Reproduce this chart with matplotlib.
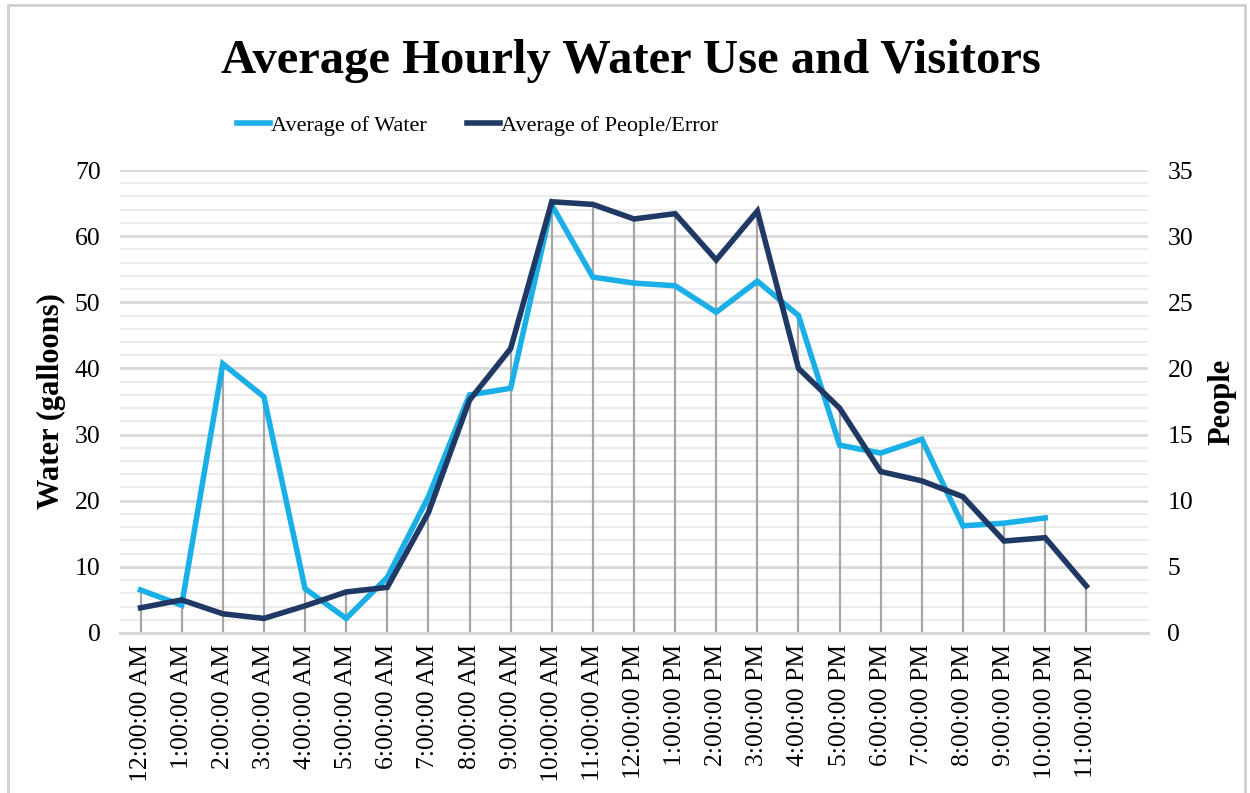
import matplotlib
matplotlib.use('Agg')
import matplotlib.pyplot as plt
from matplotlib.patches import Rectangle
import numpy as np

hours = ['12:00:00 AM', '1:00:00 AM', '2:00:00 AM', '3:00:00 AM', '4:00:00 AM',
         '5:00:00 AM', '6:00:00 AM', '7:00:00 AM', '8:00:00 AM', '9:00:00 AM',
         '10:00:00 AM', '11:00:00 AM', '12:00:00 PM', '1:00:00 PM', '2:00:00 PM',
         '3:00:00 PM', '4:00:00 PM', '5:00:00 PM', '6:00:00 PM', '7:00:00 PM',
         '8:00:00 PM', '9:00:00 PM', '10:00:00 PM', '11:00:00 PM']
water = [6.5, 4.2, 40.7, 35.7, 6.7, 2.2, 8.4, 20.6, 36.0, 37.0,
         64.7, 53.8, 52.9, 52.5, 48.5, 53.2, 48.0, 28.4, 27.2, 29.3,
         16.2, 16.6, 17.4]
people = [1.9, 2.5, 1.45, 1.1, 2.05, 3.1, 3.45, 9.1, 17.6, 21.5,
          32.6, 32.4, 31.3, 31.7, 28.2, 31.9, 20.0, 17.0, 12.2, 11.5,
          10.3, 6.95, 7.2, 3.55]

plt.rcParams['font.family'] = 'Liberation Serif'

fig = plt.figure(figsize=(12.5, 7.93), dpi=100)
ax = fig.add_axes([0.096, 0.2018, 0.8224, 0.5838])
ax2 = ax.twinx()

x = np.arange(len(hours))
xw = np.arange(len(water))

# gridlines
ax.set_ylim(0, 70)
ax2.set_ylim(0, 35)
ax.set_yticks(range(0, 71, 10))
ax.set_yticks(range(0, 71, 2), minor=True)
ax.grid(True, which='major', axis='y', color='#d9d9d9', linewidth=2, zorder=0)
ax.grid(True, which='minor', axis='y', color='#ececec', linewidth=1.5, zorder=0)

# drop lines to the highest series point (people scaled to water axis)
for i in x:
    top = people[i] * 2
    if i < len(water):
        top = max(top, water[i])
    ax.plot([i, i], [0, top], color='#a6a6a6', linewidth=1.6, zorder=2)

l1, = ax.plot(xw, water, color='#1aafe6', linewidth=4, zorder=3,
              solid_joinstyle='miter', label='Average of Water')
l2, = ax2.plot(x, people, color='#1f3864', linewidth=4, zorder=3,
               solid_joinstyle='miter', label='Average of People/Error')

ax.set_xlim(-0.5, 24.5)
ax.set_xticks(x)
ax.set_xticklabels(hours, rotation=90, fontsize=18.5)
ax.tick_params(axis='x', length=0, pad=8)
ax.tick_params(axis='y', which='both', length=0, labelsize=18.5, pad=14)
ax2.tick_params(axis='y', length=0, labelsize=18.5, pad=14)
ax2.set_yticks(range(0, 36, 5))

for a in (ax, ax2):
    for s in ['top', 'right', 'left']:
        a.spines[s].set_visible(False)
    a.spines['bottom'].set_color('#d9d9d9')
    a.spines['bottom'].set_linewidth(2)

ax.set_ylabel('Water (galloons)', fontsize=22, fontweight='bold', labelpad=6)
ax2.set_ylabel('People', fontsize=22, fontweight='bold', labelpad=10)

fig.text(0.505, 0.908, 'Average Hourly Water Use and Visitors', fontsize=35,
         fontweight='bold', ha='center', va='baseline')
fig.legend(handles=[l1, l2], loc='center', bbox_to_anchor=(0.382, 0.842), ncol=2,
           frameon=False, fontsize=16, handlelength=1.5, handletextpad=0.05,
           columnspacing=1.8)

fig.patches.append(Rectangle((0.006, -0.01), 0.99, 1.004, transform=fig.transFigure,
                             fill=False, edgecolor='#d0d0d0', linewidth=2))

fig.savefig('out.png', dpi=100, facecolor='white')
